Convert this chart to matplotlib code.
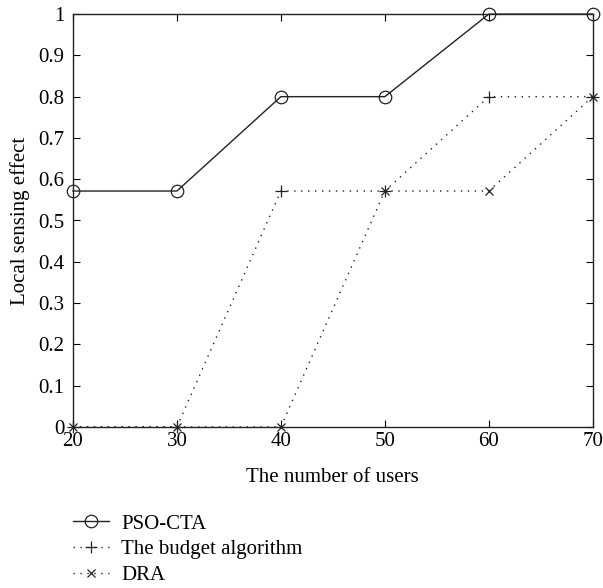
import matplotlib.pyplot as plt

users = [20, 30, 40, 50, 60, 70]
pso_cta = [0.5714, 0.5714, 0.8, 0.8, 1.0, 1.0]
budget = [0, 0, 0.5714, 0.5714, 0.8, 0.8]
dra = [0, 0, 0, 0.5714, 0.5714, 0.8]
yticks = [0, 0.1, 0.2, 0.3, 0.4, 0.5, 0.6, 0.7, 0.8, 0.9, 1]
ytick_labels = ["0", "0.1", "0.2", "0.3", "0.4", "0.5", "0.6", "0.7", "0.8", "0.9", "1"]

plt.rcParams["font.family"] = ["Liberation Serif", "DejaVu Serif"]
plt.rcParams["font.size"] = 15

fig = plt.figure(figsize=(6.03, 5.88), dpi=100)
ax = fig.add_axes([0.121, 0.274, 0.862, 0.702])

ax.plot(users, pso_cta, color="#222222", linestyle="-", linewidth=1.0,
        marker="o", markersize=9, markerfacecolor="none", markeredgewidth=0.9,
        label="PSO-CTA", clip_on=False, zorder=3)
ax.plot(users, budget, color="#222222", linestyle=(0, (1, 4)), linewidth=1.0,
        marker="+", markersize=8, markeredgewidth=0.9,
        label="The budget algorithm", clip_on=False, zorder=3)
ax.plot(users, dra, color="#222222", linestyle=(0, (1, 4)), linewidth=1.0,
        marker="x", markersize=6, markeredgewidth=0.9,
        label="DRA", clip_on=False, zorder=3)

ax.set_xlim(20, 70)
ax.set_ylim(0, 1)
ax.set_xticks(users)
ax.set_yticks(yticks)
ax.set_yticklabels(ytick_labels)
ax.tick_params(direction="in", top=True, right=True, length=5, width=0.8,
               labelsize=15)
ax.tick_params(axis="y", pad=6)
ax.tick_params(axis="x", pad=4)
for s in ax.spines.values():
    s.set_linewidth(1.0)
    s.set_color("#222222")

ax.set_xlabel("The number of users", fontsize=15, labelpad=12)
ax.set_ylabel("Local sensing effect", fontsize=15, labelpad=6)

fig.legend(loc="upper left", bbox_to_anchor=(0.108, 0.14), frameon=False,
           handlelength=1.7, handletextpad=0.6, labelspacing=0.3, fontsize=15,
           borderaxespad=0)

fig.savefig("out.png", dpi=100)
